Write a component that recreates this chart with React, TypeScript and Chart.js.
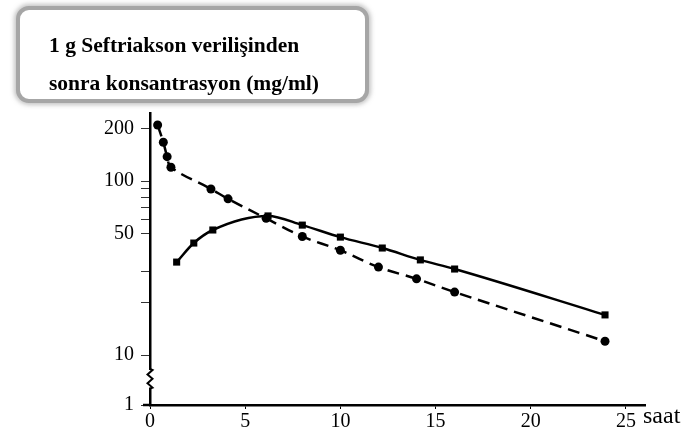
import { useEffect, useRef } from "react";
import { Chart, registerables } from "chart.js";

Chart.register(...registerables);

// Time (saat) and concentration (mg/ml)
const timesIV = [0.4, 0.7, 0.9, 1.1, 3.2, 4.1, 6.1, 8, 10, 12, 14, 16, 23.9];
const concIV = [210, 167, 138, 120, 90, 79, 61, 48, 40, 32, 27.4, 23, 12];

const timesIM = [1.4, 2.3, 3.3, 6.2, 8, 10, 12.2, 14.2, 16, 23.9];
const concIM = [34.2, 44, 52.3, 63, 55.8, 47.6, 41.2, 35.2, 31.2, 17];

const xTickValues = [0, 5, 10, 15, 20, 25];
// bottom of the (broken) axis is labelled "1"
const yAxisMin = 5.16;
const yAxisMax = 246;
const yTickValues = [yAxisMin, 10, 20, 30, 50, 60, 70, 80, 90, 100, 200];
const yTickLabels = ["1", "10", "", "", "50", "", "", "", "", "100", "200"];

const titleLines = ["1 g Seftriakson verilişinden", "sonra konsantrasyon (mg/ml)"];
const xUnit = "saat";

const breakPlugin = {
  id: "axisBreak",
  afterDraw(chart: any) {
    const y = chart.scales.y;
    const x = chart.scales.x;
    const ctx = chart.ctx;
    const px = x.getPixelForValue(0);
    const top = y.getPixelForValue(8.2);
    const bot = y.getPixelForValue(6.5);
    ctx.save();
    ctx.fillStyle = "#fff";
    ctx.fillRect(px - 2, top, 4, bot - top);
    ctx.strokeStyle = "#000";
    ctx.lineWidth = 2;
    ctx.beginPath();
    const n = 4;
    ctx.moveTo(px, top - 1);
    for (let i = 0; i <= n; i++) {
      const yy = top + ((bot - top) * i) / n;
      ctx.lineTo(px + (i % 2 === 0 ? 2.5 : -2.5), yy);
    }
    ctx.lineTo(px, bot + 1);
    ctx.stroke();
    // corner stub of the x axis
    ctx.beginPath();
    ctx.lineWidth = 2.5;
    ctx.moveTo(px - 7, chart.chartArea.bottom);
    ctx.lineTo(px, chart.chartArea.bottom);
    ctx.stroke();
    ctx.restore();
  },
};

export default function App() {
  const ref = useRef<HTMLCanvasElement | null>(null);

  useEffect(() => {
    if (!ref.current) return;
    const font = { family: "'Liberation Serif', 'DejaVu Serif', serif", size: 20 };
    const chart = new Chart(ref.current, {
      type: "line",
      data: {
        datasets: [
          {
            label: "IV",
            data: timesIV.map((t, i) => ({ x: t, y: concIV[i] })),
            borderColor: "#000",
            backgroundColor: "#000",
            borderWidth: 2.5,
            borderDash: [12, 7],
            pointStyle: "circle",
            pointRadius: 4.5,
            pointBorderWidth: 0,
            tension: 0.4,
          },
          {
            label: "IM",
            data: timesIM.map((t, i) => ({ x: t, y: concIM[i] })),
            borderColor: "#000",
            backgroundColor: "#000",
            borderWidth: 2.5,
            pointStyle: "rect",
            pointRadius: 5,
            pointBorderWidth: 0,
            cubicInterpolationMode: "monotone",
          },
        ],
      },
      options: {
        animation: false,
        responsive: false,
        maintainAspectRatio: false,
        layout: { padding: { top: 113, right: 41, left: 0, bottom: 0 } },
        plugins: { legend: { display: false }, tooltip: { enabled: false } },
        scales: {
          x: {
            type: "linear",
            min: 0,
            max: 26,
            afterBuildTicks: (scale: any) => {
              scale.ticks = xTickValues.map((v) => ({ value: v }));
            },
            afterFit: (scale: any) => {
              scale.height = 36;
            },
            grid: { drawOnChartArea: false, drawTicks: true, tickLength: 4, color: "#000", lineWidth: 1 },
            border: { display: true, color: "#000", width: 2.5 },
            ticks: { color: "#000", font, padding: 1, autoSkip: false, maxRotation: 0 },
          },
          y: {
            type: "logarithmic",
            min: yAxisMin,
            max: yAxisMax,
            afterBuildTicks: (scale: any) => {
              scale.ticks = yTickValues.map((v) => ({ value: v }));
            },
            afterFit: (scale: any) => {
              scale.width = 150;
            },
            grid: { drawOnChartArea: false, drawTicks: true, tickLength: 9, color: "#333", lineWidth: 1 },
            border: { display: true, color: "#000", width: 2.5 },
            ticks: {
              color: "#000",
              font,
              padding: 7,
              autoSkip: false,
              callback: (_v: any, i: number) => yTickLabels[i],
            },
          },
        },
      },
      plugins: [breakPlugin],
    } as any);
    return () => chart.destroy();
  }, []);

  return (
    <div style={{ position: "fixed", left: 0, top: 0, width: 686, height: 441, background: "#fff", overflow: "hidden" }}>
      <canvas ref={ref} width={686} height={441} style={{ position: "absolute", left: 0, top: 0, width: 686, height: 441 }} />
      <div
        style={{
          position: "absolute",
          left: 16,
          top: 6,
          width: 353,
          height: 97,
          boxSizing: "border-box",
          border: "4px solid #a6a6a6",
          borderRadius: 13,
          boxShadow: "0 0 4px 2px rgba(140,140,140,0.5)",
          background: "#fff",
          paddingTop: 16,
          paddingLeft: 29,
          fontFamily: "'Liberation Serif', serif",
          fontWeight: "bold",
          fontSize: 21.5,
          color: "#000",
          whiteSpace: "nowrap",
        }}
      >
        {titleLines.map((l) => (
          <div key={l} style={{ lineHeight: "38px" }}>{l}</div>
        ))}
      </div>
      <div
        style={{
          position: "absolute",
          left: 643,
          top: 401,
          fontFamily: "'Liberation Serif', serif",
          fontSize: 24,
          color: "#000",
          whiteSpace: "nowrap",
          lineHeight: "28px",
        }}
      >
        {xUnit}
      </div>
    </div>
  );
}
